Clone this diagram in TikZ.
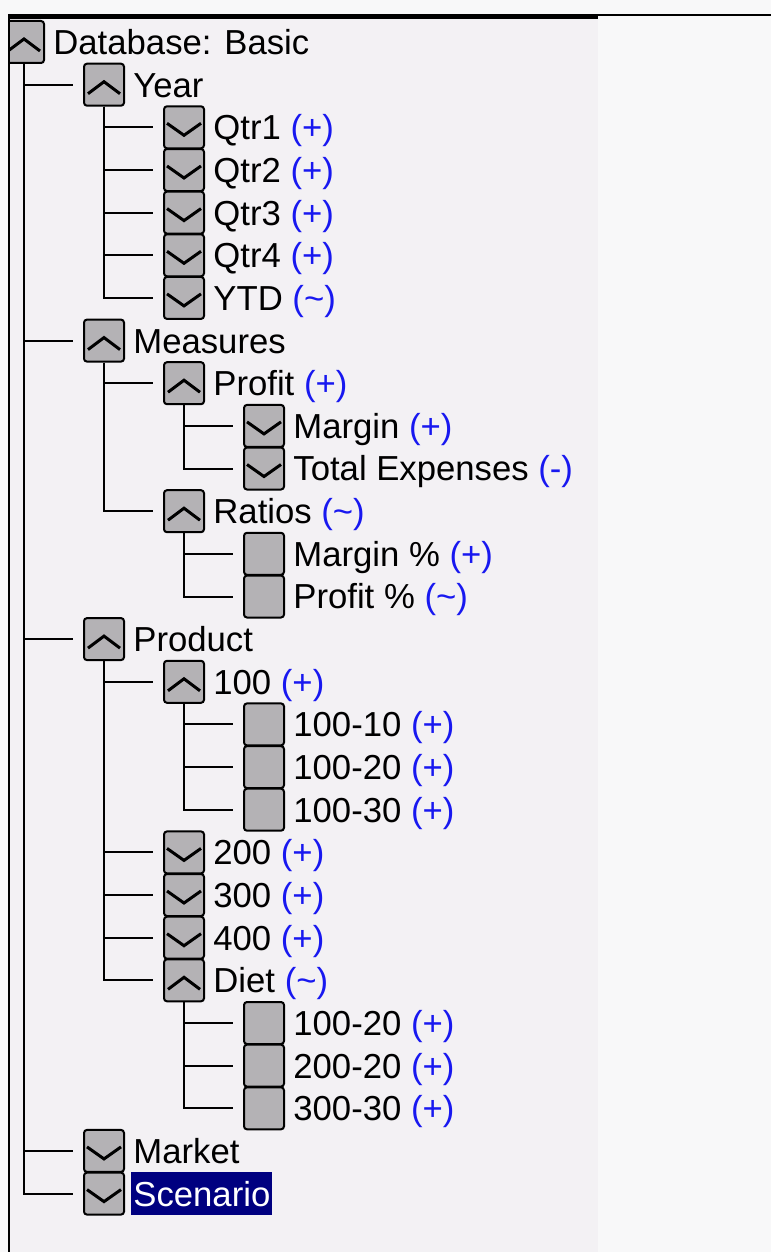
\documentclass[tikz,border=0pt]{standalone}
\usepackage{fontspec}
\setmainfont{Liberation Sans}
\usetikzlibrary{positioning}

\definecolor{outerbg}{RGB}{248,248,249}
\definecolor{panelbg}{RGB}{243,241,244}
\definecolor{boxgray}{RGB}{180,178,181}
\definecolor{opblue}{RGB}{24,24,240}
\definecolor{selnavy}{RGB}{0,0,128}

\tikzset{
  item/.style={draw=black, fill=boxgray, line width=1pt, rounded corners=1.5pt,
    minimum width=20pt, minimum height=21pt, inner sep=0pt},
  opened/.style={item, path picture={\draw[line width=1.5pt, sharp corners]
    ([xshift=-8pt,yshift=-4.5pt]path picture bounding box.center) -- ++(8pt,6pt) -- ++(8pt,-6pt);}},
  closed/.style={item, path picture={\draw[line width=1.5pt, sharp corners]
    ([xshift=-8.5pt,yshift=2pt]path picture bounding box.center) -- ++(8.5pt,-6pt) -- ++(8.5pt,6pt);}},
  leaf/.style={item},
  txt/.style={font=\fontsize{17.35pt}{20pt}\selectfont, inner sep=0pt,
    text height=12.4pt, text depth=0pt},
  link/.style={line width=1pt},
}
\newcommand{\op}[1]{\textcolor{opblue}{#1}}

\begin{document}
\begin{tikzpicture}[x=0.5pt,y=-0.5pt]
\useasboundingbox (0,0) rectangle (771,1252);
\fill[outerbg] (0,0) rectangle (771,1252);
\fill[panelbg] (8,17) rectangle (598,1252);

\begin{scope}
\clip (9,17) rectangle (598,1252);
% Root
\node[opened] (db) at (24,42) {};
\node[txt, right=4pt of db] (db-t) {Database: Basic};
% Year
\node[opened] (yr) at (104,84.7) {};
\node[txt, right=4pt of yr] (yr-t) {Year};
\node[closed] (q1) at (184,127.3) {};
\node[txt, right=4pt of q1] (q1-t) {Qtr1 \op{(+)}};
\node[closed] (q2) at (184,170) {};
\node[txt, right=4pt of q2] (q2-t) {Qtr2 \op{(+)}};
\node[closed] (q3) at (184,212.6) {};
\node[txt, right=4pt of q3] (q3-t) {Qtr3 \op{(+)}};
\node[closed] (q4) at (184,255.3) {};
\node[txt, right=4pt of q4] (q4-t) {Qtr4 \op{(+)}};
\node[closed] (ytd) at (184,297.9) {};
\node[txt, right=4pt of ytd] (ytd-t) {YTD \op{(\textasciitilde)}};
% Measures
\node[opened] (ms) at (104,340.6) {};
\node[txt, right=4pt of ms] (ms-t) {Measures};
\node[opened] (pf) at (184,383.2) {};
\node[txt, right=4pt of pf] (pf-t) {Profit \op{(+)}};
\node[closed] (mg) at (264,425.9) {};
\node[txt, right=4pt of mg] (mg-t) {Margin \op{(+)}};
\node[closed] (te) at (264,468.5) {};
\node[txt, right=4pt of te] (te-t) {Total Expenses \op{(-)}};
\node[opened] (rt) at (184,511.2) {};
\node[txt, right=4pt of rt] (rt-t) {Ratios \op{(\textasciitilde)}};
\node[leaf] (mp) at (264,553.8) {};
\node[txt, right=4pt of mp] (mp-t) {Margin \% \op{(+)}};
\node[leaf] (pp) at (264,596.5) {};
\node[txt, right=4pt of pp] (pp-t) {Profit \% \op{(\textasciitilde)}};
% Product
\node[opened] (pr) at (104,639.1) {};
\node[txt, right=4pt of pr] (pr-t) {Product};
\node[opened] (p100) at (184,681.8) {};
\node[txt, right=4pt of p100] (p100-t) {100 \op{(+)}};
\node[leaf] (p10010) at (264,724.4) {};
\node[txt, right=4pt of p10010] (p10010-t) {100-10 \op{(+)}};
\node[leaf] (p10020) at (264,767.1) {};
\node[txt, right=4pt of p10020] (p10020-t) {100-20 \op{(+)}};
\node[leaf] (p10030) at (264,809.7) {};
\node[txt, right=4pt of p10030] (p10030-t) {100-30 \op{(+)}};
\node[closed] (p200) at (184,852.4) {};
\node[txt, right=4pt of p200] (p200-t) {200 \op{(+)}};
\node[closed] (p300) at (184,895) {};
\node[txt, right=4pt of p300] (p300-t) {300 \op{(+)}};
\node[closed] (p400) at (184,937.7) {};
\node[txt, right=4pt of p400] (p400-t) {400 \op{(+)}};
\node[opened] (dt) at (184,980.3) {};
\node[txt, right=4pt of dt] (dt-t) {Diet \op{(\textasciitilde)}};
\node[leaf] (d10020) at (264,1023) {};
\node[txt, right=4pt of d10020] (d10020-t) {100-20 \op{(+)}};
\node[leaf] (d20020) at (264,1065.6) {};
\node[txt, right=4pt of d20020] (d20020-t) {200-20 \op{(+)}};
\node[leaf] (d30030) at (264,1108.3) {};
\node[txt, right=4pt of d30030] (d30030-t) {300-30 \op{(+)}};
% Market and Scenario
\node[closed] (mk) at (104,1150.9) {};
\node[txt, right=4pt of mk] (mk-t) {Market};
\node[closed] (sc) at (104,1193.6) {};
\node[txt, fill=selnavy, text=white, inner xsep=1pt, inner ysep=4.5pt,
  right=3pt of sc] (sc-t) {Scenario};

% The links:
\foreach \k in {yr,ms,pr,mk,sc}
  \draw[link] (db.south) |- ([xshift=-5pt]\k.west);
\foreach \k in {q1,q2,q3,q4,ytd}
  \draw[link] (yr.south) |- ([xshift=-5pt]\k.west);
\foreach \k in {pf,rt}
  \draw[link] (ms.south) |- ([xshift=-5pt]\k.west);
\foreach \k in {mg,te}
  \draw[link] (pf.south) |- ([xshift=-5pt]\k.west);
\foreach \k in {mp,pp}
  \draw[link] (rt.south) |- ([xshift=-5pt]\k.west);
\foreach \k in {p100,p200,p300,p400,dt}
  \draw[link] (pr.south) |- ([xshift=-5pt]\k.west);
\foreach \k in {p10010,p10020,p10030}
  \draw[link] (p100.south) |- ([xshift=-5pt]\k.west);
\foreach \k in {d10020,d20020,d30030}
  \draw[link] (dt.south) |- ([xshift=-5pt]\k.west);
\end{scope}

% Frame
\draw[line width=2.5pt] (8,16.5) -- (598,16.5);
\draw[line width=1pt] (598,15) -- (771,15);
\draw[line width=1pt] (9,14) -- (9,1252);
\end{tikzpicture}
\end{document}
